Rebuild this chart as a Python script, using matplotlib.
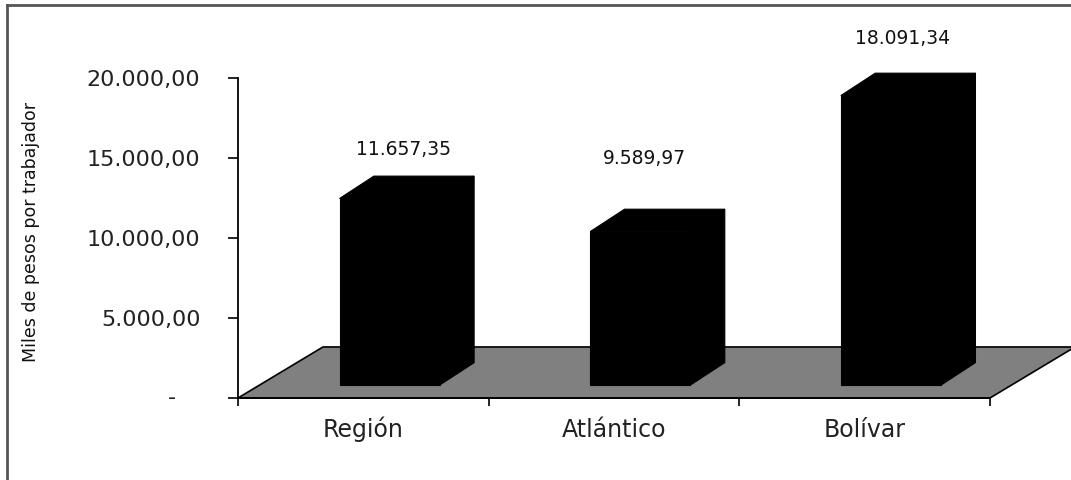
import matplotlib
matplotlib.use("Agg")
import matplotlib.pyplot as plt
from matplotlib.patches import Polygon
from matplotlib.lines import Line2D

categories = ["Región", "Atlántico", "Bolívar"]
values = [11657.35, 9589.97, 18091.34]
y_ticks = [0, 5000, 10000, 15000, 20000]
y_label = "Miles de pesos por trabajador"

# where each value label sits, relative to its bar
label_dx = [0.16, 0.12, 0.15]
label_dy = [3900, 5400, 4400]


def es_fmt(v):
    # 12345.6 -> 12.345,60
    s = f"{v:,.2f}"
    return s.replace(",", "X").replace(".", ",").replace("X", ".")


W, H = 1071, 480
fig = plt.figure(figsize=(W / 100, H / 100), dpi=100)
fig.patch.set_facecolor("white")
plt.rcParams["font.family"] = ["DejaVu Sans"]

ax = fig.add_axes([238 / W, 82 / H, 752 / W, 320 / H])
ax.set_xlim(-0.5, 2.5)
ax.set_ylim(0, 20000)
ax.set_facecolor("none")

# floor of the 3d box
fx, fy = 0.339, 3190
floor = Polygon([(-0.5, 0), (2.5, 0), (2.5 + fx, fy), (-0.5 + fx, fy)],
                closed=True, facecolor="#808080", edgecolor="black",
                linewidth=1.2, clip_on=False, zorder=1)
ax.add_patch(floor)

# bars as front / top / side faces
base = 810
w = 0.40
dx, dy = 0.137, 1400
for i, v in enumerate(values):
    left = i - 0.095
    right = left + w
    top = base + v
    faces = [
        [(left, base), (right, base), (right, top), (left, top)],
        [(left, top), (right, top), (right + dx, top + dy), (left + dx, top + dy)],
        [(right, base), (right + dx, base + dy), (right + dx, top + dy), (right, top)],
    ]
    for f in faces:
        ax.add_patch(Polygon(f, closed=True, facecolor="black",
                             edgecolor="black", linewidth=0.8,
                             clip_on=False, zorder=2))
    ax.text(i + label_dx[i], v + label_dy[i], es_fmt(v), ha="center",
            va="center", fontsize=13.5, color="#111111", clip_on=False)

# axes lines and ticks
for s in ["top", "right"]:
    ax.spines[s].set_visible(False)
for s in ["left", "bottom"]:
    ax.spines[s].set_linewidth(1.3)
    ax.spines[s].set_zorder(3)

ax.set_yticks(y_ticks)
ax.set_yticklabels(["" if t == 0 else es_fmt(t) for t in y_ticks])
ax.tick_params(axis="y", direction="out", length=7, width=1.2,
               pad=20, labelsize=16, labelcolor="#222222")
ax.annotate("-", xy=(0, 0), xycoords=("axes fraction", "data"),
            xytext=(-66, 0), textcoords="offset pixels",
            ha="center", va="center", fontsize=16, color="#222222")

ax.set_xticks([-0.5, 0.5, 1.5, 2.5])
ax.set_xticklabels([])
ax.set_xticks([0, 1, 2], minor=True)
ax.set_xticklabels(categories, minor=True)
ax.tick_params(axis="x", which="major", direction="out", length=6, width=1.2)
ax.tick_params(axis="x", which="minor", length=0, pad=28, labelsize=17,
               labelcolor="#222222")
for lab in ax.get_xticklabels(minor=True):
    lab.set_verticalalignment("baseline")

fig.text(31 / W, 1 - 232 / H, y_label, rotation=90, ha="center",
         va="center", fontsize=12.5, color="#111111")

# chart area border (left and top edges)
fig.add_artist(Line2D([7 / W, 7 / W], [0, 1 - 5 / H], color="#555555",
                      linewidth=2))
fig.add_artist(Line2D([7 / W, 1], [1 - 5 / H, 1 - 5 / H], color="#555555",
                      linewidth=2))

fig.savefig("out.png", dpi=100)
